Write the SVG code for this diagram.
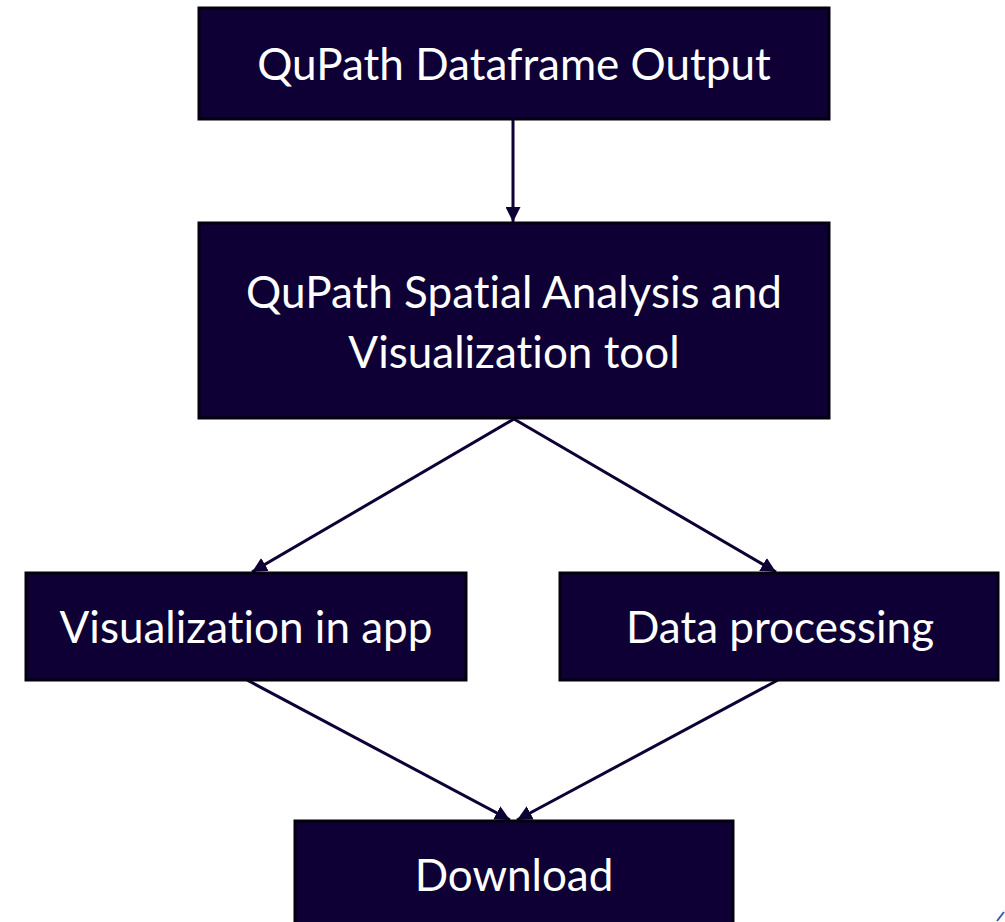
<svg xmlns="http://www.w3.org/2000/svg" width="1005" height="922" viewBox="0 0 1005 922">
<style>
.box{fill:#0e0035;stroke:#04000f;stroke-width:3}
.lbl{fill:#ffffff;font-family:Lato,"Open Sans","Liberation Sans",sans-serif;font-size:44px;text-anchor:middle;font-variant-ligatures:none;font-feature-settings:"liga" 0,"clig" 0}
.edge{stroke:#0e0035;stroke-width:3;fill:none}
</style>
<defs>
<marker id="ah" viewBox="0 0 10 10" refX="10" refY="5" markerWidth="5" markerHeight="5" markerUnits="strokeWidth" orient="auto">
<path d="M0,0 L10,5 L0,10 z" fill="#0e0035"/>
</marker>
</defs>
<rect width="1005" height="922" fill="#ffffff"/>
<g id="connectors">
<line class="edge" x1="513" y1="120" x2="513" y2="222" marker-end="url(#ah)"/>
<line class="edge" x1="514" y1="419" x2="252" y2="572" marker-end="url(#ah)"/>
<line class="edge" x1="514" y1="419" x2="776" y2="572" marker-end="url(#ah)"/>
<line class="edge" x1="247" y1="680" x2="510" y2="820" marker-end="url(#ah)"/>
<line class="edge" x1="778" y1="680" x2="517" y2="820" marker-end="url(#ah)"/>
</g>
<g id="node-output">
<rect class="box" x="199" y="8" width="630" height="111"/>
<text class="lbl" x="514" y="80">QuPath Dataframe Output</text>
</g>
<g id="node-tool">
<rect class="box" x="199" y="223" width="630" height="195"/>
<text class="lbl" x="514" y="308">QuPath Spatial Analysis and</text>
<text class="lbl" x="514" y="368">Visualization tool</text>
</g>
<g id="node-visualization">
<rect class="box" x="26" y="573" width="440" height="107"/>
<text class="lbl" x="246" y="643">Visualization in app</text>
</g>
<g id="node-processing">
<rect class="box" x="560" y="573" width="438" height="107"/>
<text class="lbl" x="780" y="643">Data processing</text>
</g>
<g id="node-download">
<rect class="box" x="295" y="821" width="438" height="120"/>
<text class="lbl" x="514" y="891">Download</text>
</g>
<path d="M997,921 L1004,912" stroke="#3a5bb0" stroke-width="2" fill="none"/>
</svg>
